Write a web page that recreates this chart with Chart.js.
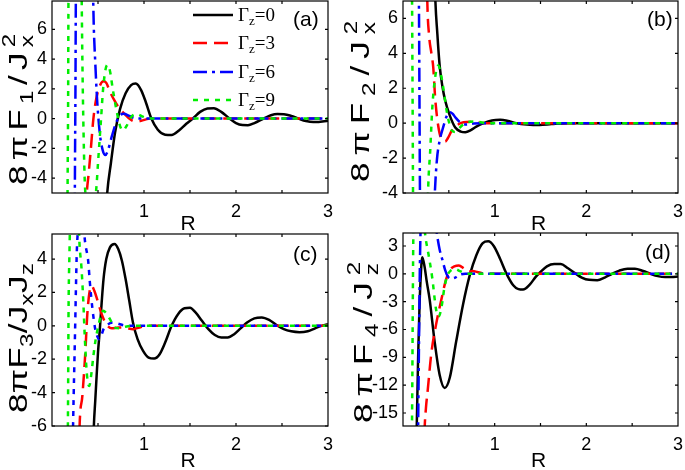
<!DOCTYPE html>
<html>
<head>
<meta charset="utf-8">
<script src="https://cdn.jsdelivr.net/npm/chart.js@4.4.1/dist/chart.umd.min.js"></script>
<style>
html, body { margin: 0; padding: 0; background: #fff; }
#wrap { position: relative; width: 685px; height: 470px; overflow: hidden; }
canvas { position: absolute; left: 0; top: 0; }
</style>
</head>
<body>
<div id="wrap">
  <canvas id="pa" width="685" height="470"></canvas>
  <canvas id="pb" width="685" height="470"></canvas>
  <canvas id="pc" width="685" height="470"></canvas>
  <canvas id="pd" width="685" height="470"></canvas>
</div>
<script>
// ---- data (R, value) ----
const xTicks = [1, 2, 3];
const xMinor = [0.5, 1, 1.5, 2, 2.5];
const gammaLabels = ['0', '3', '6', '9'];

// (a) 8πF1/Jx²
const a_yTicks = [-4, -2, 0, 2, 4, 6];
const a_g0 = [[0.56,-9],[0.60,-5],[0.64,-3.0],[0.685,-0.95],[0.74,0.65],[0.80,1.7],[0.86,2.25],[0.91,2.35],[0.97,1.9],[1.02,1.1],[1.08,0],[1.15,-0.75],[1.23,-1.08],[1.30,-1.1],[1.38,-0.8],[1.46,-0.35],[1.53,0],[1.61,0.45],[1.69,0.68],[1.76,0.7],[1.84,0.45],[1.93,0],[2.0,-0.3],[2.07,-0.43],[2.13,-0.44],[2.2,-0.3],[2.3,0],[2.38,0.22],[2.45,0.3],[2.52,0.29],[2.6,0.18],[2.68,0],[2.76,-0.16],[2.84,-0.23],[2.9,-0.23],[2.96,-0.18],[3.0,-0.15]];
const a_g3 = [[0.35,-9],[0.375,-5.3],[0.40,-3.6],[0.42,-2.2],[0.45,0],[0.48,1.3],[0.52,2.2],[0.56,2.5],[0.59,2.4],[0.63,1.8],[0.68,1.2],[0.73,0.7],[0.79,0.3],[0.85,-0.05],[0.91,-0.2],[0.97,-0.15],[1.05,-0.02],[1.15,0],[3.0,0]];
const a_g6 = [[0.24,-15],[0.25,-3],[0.255,2],[0.26,8.5],[0.36,16],[0.44,10],[0.455,6],[0.47,3.8],[0.49,1.3],[0.52,-1],[0.55,-2.1],[0.58,-2.45],[0.61,-2.1],[0.65,-1.2],[0.69,-0.4],[0.73,0.15],[0.78,0.32],[0.84,0.18],[0.9,0.03],[0.97,0],[3.0,0]];
const a_g9 = [[0.16,-14],[0.17,-4],[0.175,1],[0.18,9],[0.25,15],[0.32,9],[0.33,4],[0.34,0],[0.355,-4],[0.37,-5.5],[0.43,-6.5],[0.48,-4.8],[0.50,-3],[0.53,-0.3],[0.56,2.3],[0.60,3.6],[0.63,3.2],[0.66,2.0],[0.70,0.6],[0.74,-0.5],[0.77,-0.8],[0.81,-0.5],[0.86,0.1],[0.92,0.3],[0.98,0.15],[1.05,0],[3.0,0]];

// (b) 8πF2/Jx²
const b_yTicks = [-4, -2, 0, 2, 4, 6];
const b_g0 = [[0.34,10],[0.35,7.5],[0.375,5.1],[0.40,3.3],[0.43,2.1],[0.46,1.3],[0.51,0.45],[0.57,-0.25],[0.63,-0.48],[0.68,-0.52],[0.74,-0.4],[0.80,-0.2],[0.88,0],[0.97,0.15],[1.06,0.19],[1.15,0.12],[1.24,0],[1.35,-0.07],[1.49,-0.1],[1.62,-0.05],[1.8,0],[3.0,0]];
const b_g3 = [[0.25,12],[0.265,7],[0.285,5],[0.31,4],[0.33,3.2],[0.35,1.5],[0.37,0.4],[0.40,-0.6],[0.43,-0.95],[0.46,-1.05],[0.49,-0.85],[0.53,-0.45],[0.59,-0.12],[0.66,0.05],[0.74,0.08],[0.82,0.03],[0.9,0],[3.0,0]];
const b_g6 = [[0.16,14],[0.175,6],[0.18,1],[0.185,-4],[0.20,-10],[0.27,-15],[0.33,-7],[0.345,-4.3],[0.37,-2.1],[0.40,-1.0],[0.44,-0.2],[0.48,0.45],[0.51,0.63],[0.54,0.55],[0.57,0.34],[0.62,0.06],[0.69,-0.08],[0.77,-0.02],[0.85,0],[3.0,0]];
const b_g9 = [[0.09,14],[0.10,6],[0.105,1],[0.11,-4.5],[0.13,-10],[0.20,-14],[0.26,-7],[0.27,-4.5],[0.28,-3],[0.295,-1.75],[0.32,0.9],[0.35,2.6],[0.385,3.3],[0.41,2.9],[0.44,2.0],[0.476,0.72],[0.50,0.1],[0.53,-0.4],[0.567,-0.5],[0.60,-0.35],[0.65,-0.1],[0.70,0.05],[0.78,0.1],[0.86,0.04],[0.93,0],[3.0,0]];

// (c) 8πF3/JxJz
const c_yTicks = [-6, -4, -2, 0, 2, 4];
const c_g0 = [[0.44,-9],[0.455,-6],[0.47,-4.5],[0.485,-3.0],[0.50,-1.6],[0.52,-0.2],[0.54,1.4],[0.56,2.8],[0.59,4.0],[0.63,4.7],[0.68,4.9],[0.72,4.6],[0.76,3.9],[0.80,2.8],[0.84,1.5],[0.88,0.2],[0.93,-0.8],[0.99,-1.5],[1.05,-1.9],[1.11,-1.96],[1.17,-1.7],[1.23,-1.0],[1.30,0],[1.37,0.7],[1.44,1.05],[1.50,1.08],[1.56,0.8],[1.63,0.3],[1.70,-0.2],[1.77,-0.55],[1.84,-0.7],[1.91,-0.7],[1.98,-0.5],[2.05,-0.15],[2.12,0.2],[2.2,0.45],[2.28,0.5],[2.36,0.35],[2.44,0.05],[2.52,-0.2],[2.6,-0.33],[2.69,-0.38],[2.78,-0.32],[2.86,-0.15],[2.93,0],[3.0,0.1]];
const c_g3 = [[0.285,-10],[0.30,-6],[0.33,-4.2],[0.36,-1.8],[0.385,0.8],[0.41,2.1],[0.43,2.4],[0.46,2.1],[0.49,1.6],[0.54,0.7],[0.59,0.1],[0.65,-0.15],[0.72,-0.1],[0.8,-0.12],[0.88,-0.2],[0.95,-0.1],[1.02,0],[3.0,0]];
const c_g6 = [[0.21,-12],[0.23,-5.7],[0.25,-0.5],[0.27,4.5],[0.285,5.8],[0.315,6.5],[0.345,5.8],[0.36,5.0],[0.395,3.8],[0.41,2.7],[0.44,1.0],[0.47,-0.2],[0.49,-0.6],[0.51,-0.8],[0.535,-0.6],[0.56,-0.2],[0.60,0.05],[0.65,0.18],[0.70,0.15],[0.78,0.03],[0.86,0],[3.0,0]];
const c_g9 = [[0.165,-12],[0.175,-4],[0.18,1],[0.19,4.4],[0.20,7],[0.25,9],[0.29,6],[0.30,4.8],[0.32,3.5],[0.34,1.5],[0.355,-0.5],[0.375,-2.6],[0.39,-3.4],[0.405,-3.6],[0.425,-3.0],[0.45,-1.8],[0.475,-0.8],[0.50,-0.1],[0.53,0.6],[0.557,0.9],[0.59,0.75],[0.63,0.4],[0.68,-0.1],[0.73,-0.15],[0.8,-0.05],[0.88,0],[3.0,0]];

// (d) 8πF4/Jz²
const d_yTicks = [-15, -12, -9, -6, -3, 0, 3];
const d_g0 = [[0.14,-22],[0.15,-16.4],[0.165,-9],[0.18,-3.5],[0.195,0],[0.21,1.8],[0.235,0.8],[0.26,-0.9],[0.29,-2.7],[0.345,-7.3],[0.40,-10.9],[0.455,-12.3],[0.51,-11.2],[0.58,-7.3],[0.655,-3.3],[0.727,-0.2],[0.80,2.0],[0.87,3.3],[0.93,3.5],[0.99,3.0],[1.06,1.6],[1.13,0],[1.2,-1.2],[1.26,-1.65],[1.31,-1.7],[1.38,-1.2],[1.45,-0.3],[1.5,0.2],[1.57,0.8],[1.65,1.05],[1.72,1.05],[1.8,0.6],[1.88,0.05],[1.95,-0.4],[2.03,-0.65],[2.12,-0.68],[2.2,-0.4],[2.28,0],[2.36,0.35],[2.45,0.55],[2.53,0.55],[2.62,0.3],[2.7,0],[2.78,-0.25],[2.86,-0.35],[2.93,-0.35],[3.0,-0.3]];
const d_g3 = [[0.22,-24],[0.235,-17],[0.25,-14.5],[0.27,-12.5],[0.31,-8.5],[0.36,-5.5],[0.42,-2.7],[0.47,-0.6],[0.52,0.5],[0.56,0.8],[0.61,0.9],[0.66,0.6],[0.71,0.2],[0.76,0.3],[0.81,0.2],[0.87,0.05],[0.93,0],[3.0,0]];
const d_g6 = [[0.15,-30],[0.165,-16.4],[0.175,-7],[0.183,0],[0.19,4],[0.20,7],[0.27,10],[0.34,6.5],[0.37,4.3],[0.40,2.6],[0.43,1.5],[0.46,0.4],[0.49,-0.3],[0.53,-0.5],[0.57,-0.4],[0.62,-0.1],[0.68,0],[3.0,0]];
const d_g9 = [[0.085,-30],[0.10,-14],[0.107,-3],[0.113,4.4],[0.125,8],[0.17,11],[0.21,8],[0.24,4.4],[0.28,2],[0.32,-0.5],[0.36,-3.8],[0.39,-4.6],[0.42,-3.6],[0.45,-1.6],[0.48,-0.3],[0.52,0.35],[0.57,0.5],[0.62,0.3],[0.68,0.05],[0.76,0],[3.0,0]];

// ---- styles ----
const SANS = '"Liberation Sans", Arial, sans-serif';
const SERIF = '"Liberation Serif", "Times New Roman", serif';
const COLORS = ['#000000', '#ff0000', '#0000ff', '#00ee00'];
const DASH_DOT = [14, 5, 3, 5];
const DASHES = [[], [14, 7], DASH_DOT, [5, 6]];
const YW = 52, XH = 30;

// draws box, inward ticks, titles, panel letter and (a) legend
const decor = {
  id: 'decor',
  afterDraw(chart, args, o) {
    const ctx = chart.ctx, a = chart.chartArea;
    const sx = chart.scales.x, sy = chart.scales.y;
    ctx.save();
    ctx.strokeStyle = '#000';
    ctx.lineWidth = 1.2;
    ctx.setLineDash([]);
    ctx.strokeRect(a.left, a.top, a.right - a.left, a.bottom - a.top);
    ctx.beginPath();
    xMinor.forEach(v => {
      const px = sx.getPixelForValue(v);
      ctx.moveTo(px, a.bottom); ctx.lineTo(px, a.bottom - 3);
      ctx.moveTo(px, a.top); ctx.lineTo(px, a.top + 3);
    });
    o.yTicks.forEach(v => {
      const py = sy.getPixelForValue(v);
      ctx.moveTo(a.left, py); ctx.lineTo(a.left + 3, py);
      ctx.moveTo(a.right, py); ctx.lineTo(a.right - 3, py);
    });
    ctx.stroke();

    ctx.fillStyle = '#000';
    ctx.textBaseline = 'alphabetic';
    ctx.font = '21px ' + SANS;
    ctx.textAlign = 'left';
    ctx.fillText(o.letter, o.letterPos[0], o.letterPos[1]);
    ctx.textAlign = 'center';
    ctx.fillText('R', (a.left + a.right) / 2 - 2, o.rY);
    drawYTitle(ctx, o.yt[0], o.yt[1], o.yt[2], o.ytParts);
    if (o.legend) {
      gammaLabels.forEach((g, i) => {
        const y = o.legend.y[i];
        ctx.strokeStyle = COLORS[i];
        ctx.lineWidth = 2.5;
        ctx.setLineDash(DASHES[i]);
        ctx.beginPath();
        ctx.moveTo(o.legend.x0, y); ctx.lineTo(o.legend.x1, y);
        ctx.stroke();
        ctx.setLineDash([]);
        ctx.textAlign = 'left';
        let x = o.legend.x1 + 5;
        ctx.font = '19px ' + SERIF;
        ctx.fillText('\u0393', x, y + 6); x += ctx.measureText('\u0393').width;
        ctx.font = '13px ' + SERIF;
        ctx.fillText('z', x, y + 10); x += ctx.measureText('z').width;
        ctx.font = '19px ' + SERIF;
        ctx.fillText('=' + g, x, y + 6);
      });
    }
    ctx.restore();
  }
};

// rotated y title; parts: [text, kind] n=normal, b=sub, p=sup (sup does not advance)
// glyphs get a moderate stretch, the rest of the target length goes into small gaps
function drawYTitle(ctx, cx, cy, len, parts) {
  const big = '26px ' + SANS, small = '18px ' + SANS;
  const glyphs = [];
  parts.forEach(([t, k]) => {
    if (k === 'n') [...t].forEach(ch => glyphs.push([ch, k]));
    else glyphs.push([t, k]);
  });
  ctx.save();
  ctx.translate(cx, cy);
  ctx.rotate(-Math.PI / 2);
  let total = 0, n = 0;
  glyphs.forEach(([t, k]) => {
    ctx.font = k === 'n' ? big : small;
    if (k !== 'p') { total += ctx.measureText(t).width; n++; }
  });
  const s = Math.min(len / total, 1.35);
  const gap = (len - total * s) / Math.max(n - 1, 1);
  ctx.scale(s, 1);
  let x = -len / 2 / s;
  ctx.textAlign = 'left';
  glyphs.forEach(([t, k]) => {
    ctx.font = k === 'n' ? big : small;
    const dy = k === 'b' ? 6 : (k === 'p' ? -12 : 0);
    ctx.fillText(t, x, dy);
    if (k !== 'p') x += ctx.measureText(t).width + gap / s;
  });
  ctx.restore();
}

function makePanel(id, p) {
  const datasets = p.series.map((pts, i) => ({
    data: pts.map(([x, y]) => ({ x, y })),
    borderColor: COLORS[i],
    borderDash: (p.dashes || DASHES)[i],
    borderWidth: 2.5,
    pointRadius: 0,
    cubicInterpolationMode: 'monotone',
    fill: false,
    clip: 0,
    order: 4 - i
  }));
  const tickFont = { family: SANS, size: 18 };
  return new Chart(document.getElementById(id), {
    type: 'line',
    data: { datasets },
    options: {
      responsive: false,
      animation: false,
      devicePixelRatio: 1,
      events: [],
      layout: { padding: { left: p.box[0] - YW, top: p.box[1], right: 685 - p.box[2], bottom: 470 - p.box[3] - XH } },
      plugins: {
        legend: { display: false },
        tooltip: { enabled: false },
        decor: p.decor
      },
      scales: {
        x: {
          type: 'linear', min: 0, max: 3,
          afterBuildTicks: s => { s.ticks = xTicks.map(v => ({ value: v })); },
          afterFit: s => { s.height = XH; s.paddingLeft = 0; s.paddingRight = 0; },
          grid: { display: false, drawTicks: false }, border: { display: false },
          ticks: { padding: 8, color: '#000', font: tickFont, autoSkip: false, maxRotation: 0 }
        },
        y: {
          type: 'linear', min: p.yRange[0], max: p.yRange[1],
          afterBuildTicks: s => { s.ticks = p.decor.yTicks.map(v => ({ value: v })); },
          afterFit: s => { s.width = YW; s.paddingTop = 0; s.paddingBottom = 0; },
          grid: { display: false, drawTicks: false }, border: { display: false },
          ticks: { padding: 5, color: '#000', font: tickFont, autoSkip: false }
        }
      }
    },
    plugins: [decor]
  });
}

makePanel('pa', {
  box: [52, 1, 328, 193], yRange: [-5, 7.9],
  series: [a_g0, a_g3, a_g6, a_g9],
  decor: {
    yTicks: a_yTicks, letter: '(a)', letterPos: [293, 26], rY: 230,
    yt: [27, 110, 150], ytParts: [['8\u03c0F', 'n'], ['1', 'b'], ['/J', 'n'], ['2', 'p'], ['x', 'b']],
    legend: { x0: 193, x1: 233, y: [15, 43, 72, 100] }
  }
});
makePanel('pb', {
  box: [403, 1, 678, 193], yRange: [-4, 7],
  series: [b_g0, b_g3, b_g6, b_g9],
  decor: {
    yTicks: b_yTicks, letter: '(b)', letterPos: [647, 26], rY: 230,
    yt: [369, 102, 160], ytParts: [['8\u03c0F', 'n'], ['2', 'b'], ['/J', 'n'], ['2', 'p'], ['x', 'b']]
  }
});
makePanel('pc', {
  box: [52, 234, 328, 426], yRange: [-6, 5.5],
  series: [c_g0, c_g3, c_g6, c_g9],
  dashes: [[], [14, 7], [5, 6], [5, 6]],
  decor: {
    yTicks: c_yTicks, letter: '(c)', letterPos: [293, 261], rY: 467,
    yt: [27, 338, 150], ytParts: [['8\u03c0F', 'n'], ['3', 'b'], ['/J', 'n'], ['x', 'b'], ['J', 'n'], ['z', 'b']]
  }
});
makePanel('pd', {
  box: [403, 233, 678, 426], yRange: [-16.4, 4.4],
  series: [d_g0, d_g3, d_g6, d_g9],
  decor: {
    yTicks: d_yTicks, letter: '(d)', letterPos: [645, 259], rY: 467,
    yt: [372, 343, 160], ytParts: [['8\u03c0F', 'n'], ['4', 'b'], ['/J', 'n'], ['2', 'p'], ['z', 'b']]
  }
});
</script>
</body>
</html>
